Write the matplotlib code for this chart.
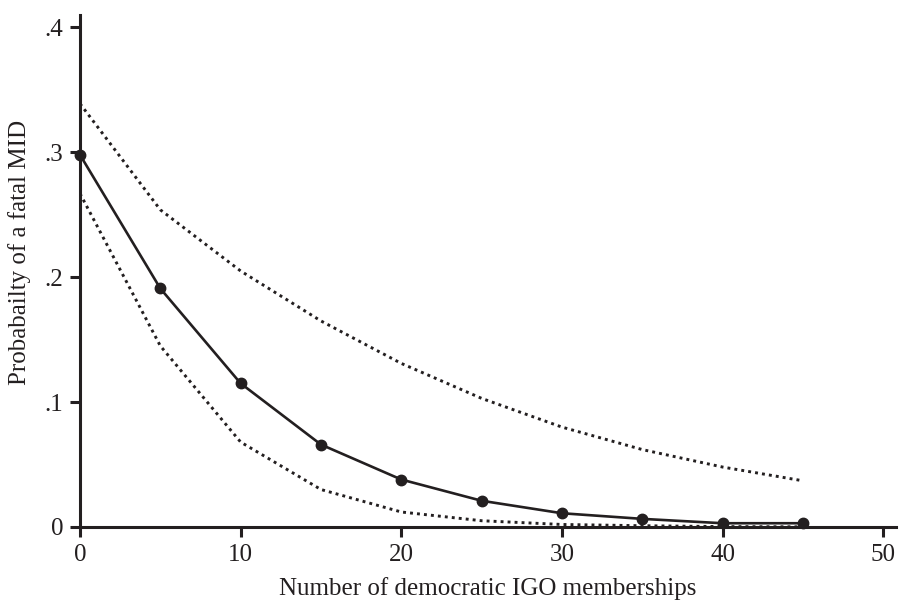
import matplotlib.pyplot as plt

# Dane
igo = [0, 5, 10, 15, 20, 25, 30, 35, 40, 45]
prob = [0.298, 0.191, 0.115, 0.066, 0.038, 0.021, 0.011, 0.0065, 0.003, 0.003]
upper = [0.339, 0.254, 0.205, 0.165, 0.131, 0.103, 0.080, 0.062, 0.048, 0.037]
lower = [0.267, 0.145, 0.068, 0.030, 0.012, 0.005, 0.002, 0.001, 0.0003, 0.0001]

yticks = [0, 0.1, 0.2, 0.3, 0.4]
ytick_labels = ['0', '.1', '.2', '.3', '.4']
xticks = [0, 10, 20, 30, 40, 50]

ink = '#231f20'
plt.rcParams['font.family'] = ['Liberation Serif', 'DejaVu Serif']

fig = plt.figure(figsize=(9, 6), dpi=100)
ax = fig.add_axes([0.0889, 0.1217, 0.9067, 0.8533])

ax.plot(igo, upper, linestyle=(0, (1, 1.4)), color=ink, lw=2.1)
ax.plot(igo, lower, linestyle=(0, (1, 1.4)), color=ink, lw=2.1)
ax.plot(igo, prob, '-o', color=ink, lw=1.9, markersize=7.5, clip_on=False, zorder=5)

ax.set_xlim(0, 50.8)
ax.set_ylim(0, 0.41)
ax.set_xticks(xticks)
ax.set_yticks(yticks)
ax.set_yticklabels(ytick_labels)

for side in ['top', 'right']:
    ax.spines[side].set_visible(False)
for side in ['left', 'bottom']:
    ax.spines[side].set_linewidth(2.2)
    ax.spines[side].set_color(ink)

ax.tick_params(direction='out', length=7, width=2.2, color=ink, labelsize=18, labelcolor=ink, pad=5)
ax.set_xlabel('Number of democratic IGO memberships', fontsize=18, color=ink, labelpad=8.5)
ax.set_ylabel('Probabailty of a fatal MID', fontsize=18, color=ink)
ax.yaxis.set_label_coords(-0.06, 0.537)

fig.savefig('out.png', dpi=100)
